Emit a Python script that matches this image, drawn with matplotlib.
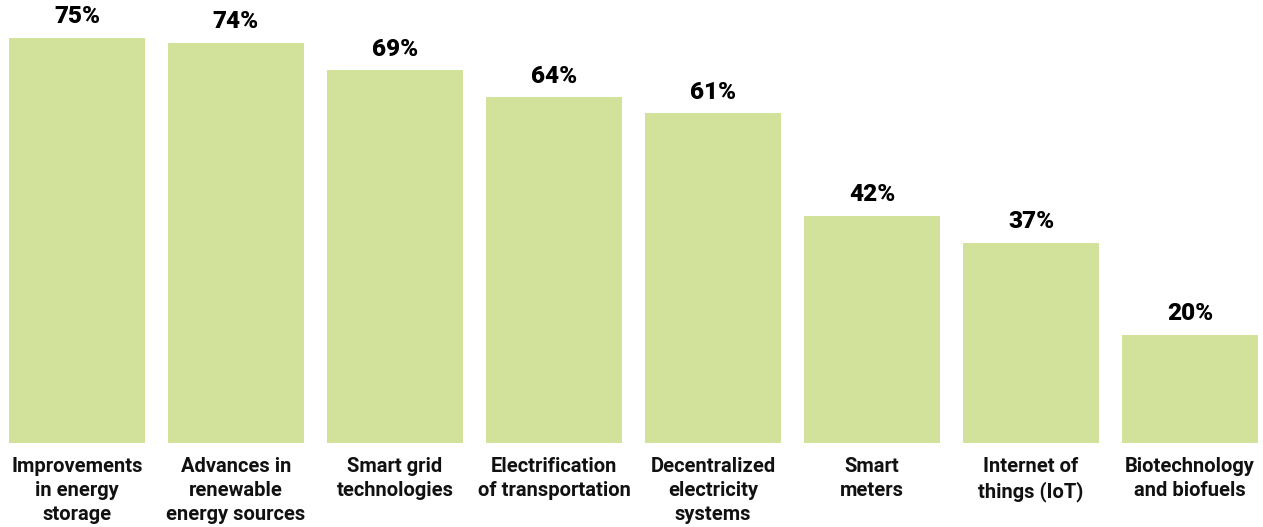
import matplotlib.pyplot as plt

categories = ["Improvements\nin energy\nstorage", "Advances in\nrenewable\nenergy sources",
              "Smart grid\ntechnologies", "Electrification\nof transportation",
              "Decentralized\nelectricity\nsystems", "Smart\nmeters",
              "Internet of\nthings (IoT)", "Biotechnology\nand biofuels"]
values = [75, 74, 69, 64, 61, 42, 37, 20]

plt.rcParams['font.family'] = ['Roboto', 'DejaVu Sans']

fig = plt.figure(figsize=(12.63, 5.27), dpi=100)
ax = fig.add_axes([9 / 1263, 84 / 527, 1249 / 1263, 443 / 527])

w = 0.855
x = range(len(values))
bars = ax.bar(x, values, width=w, color="#d3e29b")
ax.set_xlim(-w / 2, len(values) - 1 + w / 2)
ax.set_ylim(0, 82)
ax.axis("off")

# value labels above bars
for b, v in zip(bars, values):
    ax.annotate(f"{v}%", (b.get_x() + b.get_width() / 2, v), xytext=(0, 7),
                textcoords="offset points", ha="center", va="bottom",
                fontsize=17.5, fontweight="heavy", color="black")

# category labels under bars
for i, lab in enumerate(categories):
    ax.annotate(lab, (i, 0), xytext=(0, -10), textcoords="offset points",
                ha="center", va="top", fontsize=14.5, fontweight="bold",
                color="#111111", linespacing=1.35)

fig.savefig("out.png", dpi=100)
